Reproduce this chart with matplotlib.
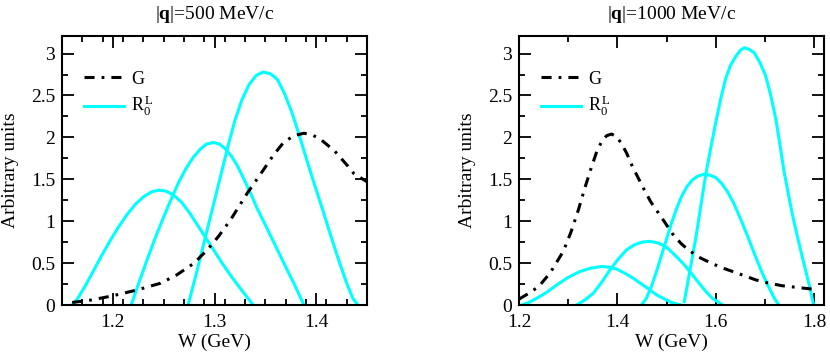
import numpy as np
import matplotlib
matplotlib.use('Agg')
import matplotlib.pyplot as plt

plt.rcParams['font.family'] = ['Liberation Serif', 'DejaVu Serif']
plt.rcParams['mathtext.fontset'] = 'custom'
plt.rcParams['mathtext.rm'] = 'Liberation Serif'
plt.rcParams['mathtext.it'] = 'Liberation Serif:italic'
plt.rcParams['mathtext.bf'] = 'Liberation Serif:bold'

# |q| = 500 MeV/c panel
g500_w = [1.160, 1.179, 1.200, 1.224, 1.247, 1.263, 1.280, 1.293, 1.304, 1.316, 1.332, 1.348,
          1.358, 1.368, 1.378, 1.388, 1.396, 1.404, 1.418, 1.431, 1.437, 1.450]
g500_y = [0.03, 0.06, 0.11, 0.18, 0.26, 0.36, 0.50, 0.66, 0.82, 1.02, 1.33, 1.61,
          1.79, 1.94, 2.02, 2.05, 2.03, 1.98, 1.84, 1.66, 1.57, 1.47]

r500_w = [
    [1.160, 1.165, 1.173, 1.181, 1.189, 1.197, 1.205, 1.214, 1.222, 1.230, 1.238, 1.245,
     1.252, 1.260, 1.268, 1.276, 1.284, 1.292, 1.300, 1.308, 1.316, 1.324, 1.331, 1.338],
    [1.218, 1.226, 1.234, 1.242, 1.250, 1.258, 1.265, 1.272, 1.279, 1.286, 1.292, 1.299,
     1.305, 1.311, 1.317, 1.323, 1.329, 1.336, 1.342, 1.349, 1.357, 1.365, 1.371, 1.378,
     1.383, 1.388],
    [1.274, 1.282, 1.290, 1.298, 1.306, 1.314, 1.320, 1.327, 1.334, 1.341, 1.348, 1.355,
     1.362, 1.369, 1.376, 1.383, 1.390, 1.398, 1.406, 1.414, 1.422, 1.430, 1.436, 1.441],
]
r500_y = [
    [0.00, 0.07, 0.23, 0.41, 0.59, 0.76, 0.92, 1.08, 1.20, 1.29, 1.35, 1.37,
     1.36, 1.31, 1.22, 1.09, 0.94, 0.79, 0.64, 0.49, 0.35, 0.22, 0.11, 0.00],
    [0.00, 0.28, 0.55, 0.81, 1.05, 1.28, 1.47, 1.63, 1.76, 1.86, 1.92, 1.94,
     1.92, 1.86, 1.77, 1.65, 1.50, 1.32, 1.15, 0.98, 0.78, 0.58, 0.43, 0.26,
     0.13, 0.00],
    [0.00, 0.37, 0.76, 1.15, 1.54, 1.93, 2.20, 2.45, 2.63, 2.74, 2.78, 2.76,
     2.69, 2.52, 2.30, 2.04, 1.76, 1.45, 1.15, 0.84, 0.54, 0.26, 0.08, 0.00],
]

# |q| = 1000 MeV/c panel
g1000_w = [1.200, 1.220, 1.240, 1.263, 1.290, 1.305, 1.321, 1.334, 1.347, 1.358, 1.368, 1.378,
           1.388, 1.398, 1.408, 1.419, 1.430, 1.442, 1.455, 1.468, 1.482, 1.496, 1.512, 1.530,
           1.546, 1.566, 1.587, 1.610, 1.634, 1.658, 1.681, 1.708, 1.735, 1.765, 1.796, 1.805]
g1000_y = [0.07, 0.14, 0.22, 0.38, 0.64, 0.86, 1.14, 1.40, 1.64, 1.83, 1.95, 2.02,
           2.04, 2.01, 1.93, 1.81, 1.66, 1.52, 1.37, 1.23, 1.11, 0.99, 0.85, 0.73,
           0.65, 0.57, 0.51, 0.45, 0.40, 0.35, 0.30, 0.26, 0.23, 0.21, 0.19, 0.18]

r1000_w = [
    [1.206, 1.220, 1.236, 1.256, 1.277, 1.300, 1.324, 1.346, 1.368, 1.384, 1.398, 1.415,
     1.432, 1.449, 1.466, 1.480, 1.493, 1.510, 1.529],
    [1.317, 1.334, 1.351, 1.368, 1.385, 1.402, 1.419, 1.435, 1.450, 1.466, 1.483, 1.500,
     1.516, 1.533, 1.550, 1.566, 1.580, 1.593, 1.614],
    [1.449, 1.459, 1.469, 1.479, 1.489, 1.499, 1.509, 1.519, 1.530, 1.541, 1.552, 1.564,
     1.576, 1.588, 1.600, 1.612, 1.624, 1.636, 1.648, 1.660, 1.672, 1.684, 1.696, 1.708,
     1.719, 1.728],
    [1.536, 1.548, 1.560, 1.570, 1.580, 1.590, 1.600, 1.610, 1.620, 1.630, 1.641, 1.650,
     1.658, 1.668, 1.678, 1.690, 1.701, 1.711, 1.722, 1.730, 1.738, 1.747, 1.755, 1.765,
     1.776, 1.789, 1.799],
]
r1000_y = [
    [0.00, 0.03, 0.08, 0.15, 0.24, 0.33, 0.40, 0.44, 0.46, 0.45, 0.43, 0.38,
     0.32, 0.25, 0.18, 0.12, 0.08, 0.03, 0.00],
    [0.00, 0.06, 0.14, 0.27, 0.42, 0.55, 0.66, 0.72, 0.75, 0.76, 0.74, 0.69,
     0.60, 0.50, 0.38, 0.26, 0.16, 0.08, 0.00],
    [0.00, 0.08, 0.22, 0.39, 0.58, 0.77, 0.96, 1.13, 1.29, 1.41, 1.49, 1.54,
     1.56, 1.55, 1.52, 1.45, 1.35, 1.22, 1.06, 0.89, 0.71, 0.53, 0.36, 0.21,
     0.08, 0.00],
    [0.04, 0.43, 0.82, 1.20, 1.57, 1.88, 2.18, 2.46, 2.70, 2.86, 2.97, 3.04,
     3.07, 3.05, 3.01, 2.89, 2.74, 2.52, 2.22, 1.93, 1.62, 1.34, 1.10, 0.84,
     0.57, 0.26, 0.00],
]

titles = [r'$|\mathbf{q}|$=500 MeV/c', r'$|\mathbf{q}|$=1000 MeV/c']
xlims = [(1.15, 1.45), (1.2, 1.82)]
xmajor = [[1.2, 1.3, 1.4], [1.2, 1.4, 1.6, 1.8]]
xminor = [0.02, 0.1]

cyan = '#00ffff'
dashdot = (0, (3.3, 2.3, 0.9, 2.3))

fig = plt.figure(figsize=(8.3, 3.56), dpi=100)
ax1 = fig.add_axes([62 / 830, 1 - 305 / 356, 305 / 830, 269 / 356])
ax2 = fig.add_axes([519 / 830, 1 - 305 / 356, 305 / 830, 269 / 356])

panels = [(ax1, g500_w, g500_y, r500_w, r500_y), (ax2, g1000_w, g1000_y, r1000_w, r1000_y)]
for i, (ax, gw, gy, rw, ry) in enumerate(panels):
    ax.plot(gw, gy, color='black', lw=2.2, linestyle=dashdot, label='G', zorder=3)
    for k in range(len(rw)):
        ax.plot(rw[k], ry[k], color=cyan, lw=2.2, label=r'R$_0^{\,\mathrm{L}}$' if k == 0 else None)

    ax.set_xlim(*xlims[i])
    ax.set_ylim(0, 3.21)
    ax.set_xticks(xmajor[i])
    ax.set_xticks(np.arange(xlims[i][0], xlims[i][1] + 1e-6, xminor[i]), minor=True)
    ax.set_yticks([0, 0.5, 1, 1.5, 2, 2.5, 3])
    ax.set_yticklabels(['0', '0.5', '1', '1.5', '2', '2.5', '3'])
    ax.set_yticks(np.arange(0, 3.21, 0.25), minor=True)
    ax.set_xticklabels([('%g' % v) for v in xmajor[i]])
    ax.tick_params(which='both', direction='in', top=True, right=True, width=1.3,
                   labelsize=14)
    ax.tick_params(axis='x', which='both', pad=6.5)
    ax.tick_params(axis='y', which='both', pad=5)
    ax.tick_params(which='major', length=8.5)
    ax.tick_params(which='minor', length=4.3)
    for s in ax.spines.values():
        s.set_linewidth(1.5)

    ax.set_xlabel('W (GeV)', fontsize=14, labelpad=2)
    ax.set_ylabel('Arbitrary units', fontsize=14)
    ax.yaxis.set_label_coords(-0.14, 0.5)
    ax.set_title(titles[i], fontsize=14, pad=12)

    ax.legend(loc='upper left', bbox_to_anchor=(0.026, 0.925), frameon=False, fontsize=13,
              handlelength=2.2, handletextpad=0.4, labelspacing=0.35, borderaxespad=0.4)

fig.savefig('out.png', dpi=100)
